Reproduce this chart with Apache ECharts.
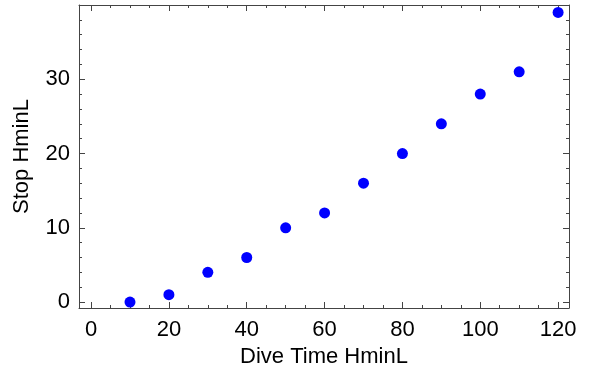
<!DOCTYPE html>
<html>
<head>
<meta charset="utf-8">
<script src="https://cdn.jsdelivr.net/npm/echarts@6/dist/echarts.min.js"></script>
<style>html,body{margin:0;padding:0;background:#fff}#c{width:591px;height:374px}</style>
</head>
<body>
<div id="c"></div>
<script>
const diveTime = [10, 20, 30, 40, 50, 60, 70, 80, 90, 100, 110, 120];
const stopMin = [0, 1, 4, 6, 10, 12, 16, 20, 24, 28, 31, 39];
const xTicks = [0, 20, 40, 60, 80, 100, 120];
const xMinorTicks = [5, 10, 15, 25, 30, 35, 45, 50, 55, 65, 70, 75, 85, 90, 95, 105, 110, 115];
const yTicks = [0, 10, 20, 30];
const yMinorTicks = [2, 4, 6, 8, 12, 14, 16, 18, 22, 24, 26, 28, 32, 34, 36, 38];
const xName = 'Dive Time HminL';
const yName = 'Stop HminL';

const FONT = 'Liberation Sans, Arial, sans-serif';
const FRAME = '#444';
const XMIN = -3.1, XMAX = 122.8, YMIN = -0.8, YMAX = 40.0;

function xa(pos, ticks, len, withLabels, withLine, extra) {
  return Object.assign({
    type: 'value', position: pos, min: XMIN, max: XMAX,
    axisLine: { show: withLine, onZero: false, lineStyle: { color: FRAME, width: 1 } },
    axisTick: { show: true, inside: true, length: len, customValues: ticks, lineStyle: { color: FRAME, width: 1 } },
    axisLabel: withLabels ? { show: true, customValues: ticks, fontSize: 22, fontFamily: FONT, color: '#000', margin: 11 } : { show: false },
    splitLine: { show: false }
  }, extra || {});
}
function ya(pos, ticks, len, withLabels, withLine, extra) {
  return Object.assign({
    type: 'value', position: pos, min: YMIN, max: YMAX,
    axisLine: { show: withLine, onZero: false, lineStyle: { color: FRAME, width: 1 } },
    axisTick: { show: true, inside: true, length: len, customValues: ticks, lineStyle: { color: FRAME, width: 1 } },
    axisLabel: withLabels ? { show: true, customValues: ticks, fontSize: 22, fontFamily: FONT, color: '#000', margin: 9 } : { show: false },
    splitLine: { show: false }
  }, extra || {});
}

const chart = echarts.init(document.getElementById('c'), null, { renderer: 'canvas' });
chart.setOption({
  animation: false,
  backgroundColor: '#fff',
  grid: { left: 79, right: 22, top: 5, bottom: 66, containLabel: false },
  xAxis: [
    xa('bottom', xTicks, 6, true, true, {
      name: xName, nameLocation: 'middle', nameGap: 38,
      nameTextStyle: { fontSize: 22, fontFamily: FONT, color: '#000' }
    }),
    xa('bottom', xMinorTicks, 3, false, false),
    xa('top', xTicks, 6, false, true),
    xa('top', xMinorTicks, 3, false, false)
  ],
  yAxis: [
    ya('left', yTicks, 6, true, true, {
      name: yName, nameLocation: 'middle', nameGap: 46,
      nameTextStyle: { fontSize: 22, fontFamily: FONT, color: '#000' }
    }),
    ya('left', yMinorTicks, 3, false, false),
    ya('right', yTicks, 6, false, true),
    ya('right', yMinorTicks, 3, false, false)
  ],
  series: [{
    type: 'scatter',
    xAxisIndex: 0, yAxisIndex: 0,
    symbol: 'circle', symbolSize: 11,
    itemStyle: { color: '#0000ff', opacity: 1 },
    data: diveTime.map((x, i) => [x, stopMin[i]])
  }]
});
</script>
</body>
</html>
